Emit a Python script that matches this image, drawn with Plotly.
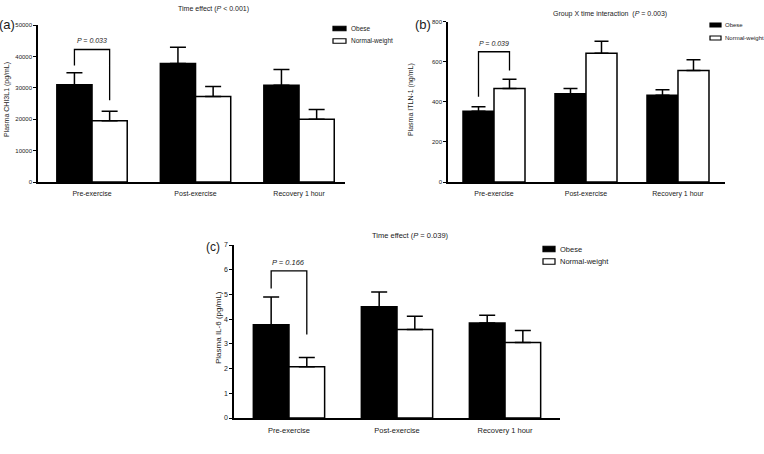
import plotly.graph_objects as go

W, H = 764, 454

categories = ["Pre-exercise", "Post-exercise", "Recovery 1 hour"]
groups = ["Obese", "Normal-weight"]

# Panel (a) CHI3L1 (pg/mL)
a_obese = [31000, 37700, 30800]
a_obese_err = [3800, 5200, 5000]
a_normal = [19500, 27200, 20000]
a_normal_err = [3000, 3200, 3100]
a_bracket = [37100, 42200, 26000]  # left leg bottom, top, right leg bottom
a_ptext = "P = 0.033"
a_ticks = [0, 10000, 20000, 30000, 40000, 50000]

# Panel (b) ITLN-1 (ng/mL)
b_obese = [353, 440, 433]
b_obese_err = [22, 27, 27]
b_normal = [467, 642, 557]
b_normal_err = [46, 61, 53]
b_bracket = [425, 650, 557]
b_ptext = "P = 0.039"
b_ticks = [0, 200, 400, 600, 800]

# Panel (c) IL-6 (pg/mL)
c_obese = [3.77, 4.50, 3.84]
c_obese_err = [1.13, 0.60, 0.32]
c_normal = [2.07, 3.58, 3.05]
c_normal_err = [0.38, 0.54, 0.49]
c_bracket = [5.24, 5.95, 3.38]
c_ptext = "P = 0.166"
c_ticks = [0, 1, 2, 3, 4, 5, 6, 7]

FONT = "Liberation Sans, Arial, sans-serif"
TXT = "#1a1a1a"

def px_x(p):
    return p / W

def px_y(p):
    return 1 - p / H

panels = [
    dict(key="", obese=a_obese, oerr=a_obese_err, normal=a_normal, nerr=a_normal_err,
         bracket=a_bracket, ptext=a_ptext, ticks=a_ticks, yr=[0, 50000],
         xdom=[38, 345], ydom=[25, 182], xr=[-0.522, 2.444], w=0.34, fs=7, tfs=6,
         cap=8, ptext_off=2900),
    dict(key="2", obese=b_obese, oerr=b_obese_err, normal=b_normal, nerr=b_normal_err,
         bracket=b_bracket, ptext=b_ptext, ticks=b_ticks, yr=[0, 800],
         xdom=[448, 725], ydom=[21.7, 182], xr=[-0.5, 2.511], w=0.337, fs=7, tfs=6,
         cap=7, ptext_off=42),
    dict(key="3", obese=c_obese, oerr=c_obese_err, normal=c_normal, nerr=c_normal_err,
         bracket=c_bracket, ptext=c_ptext, ticks=c_ticks, yr=[0, 7],
         xdom=[234, 560], ydom=[245, 418], xr=[-0.509, 2.509], w=0.33, fs=7.5, tfs=7,
         cap=8, ptext_off=0.35),
]

fig = go.Figure()
layout = {}
annotations = []
shapes = []

for p in panels:
    k = p["key"]
    xa, ya = "x" + k, "y" + k
    idx = list(range(len(categories)))
    w = p["w"]
    fig.add_trace(go.Bar(
        x=idx, y=p["obese"], name=groups[0], xaxis=xa, yaxis=ya,
        width=w, offset=-w, marker=dict(color="black", line=dict(color="black", width=1.5)),
        error_y=dict(type="data", symmetric=False, array=p["oerr"], arrayminus=[0]*3,
                     color="black", thickness=1.5, width=p["cap"]),
        showlegend=False))
    fig.add_trace(go.Bar(
        x=idx, y=p["normal"], name=groups[1], xaxis=xa, yaxis=ya,
        width=w, offset=0, marker=dict(color="white", line=dict(color="black", width=1.5)),
        error_y=dict(type="data", symmetric=False, array=p["nerr"], arrayminus=[0]*3,
                     color="black", thickness=1.5, width=p["cap"]),
        showlegend=False))
    # significance bracket
    xl, xrr = -w / 2, w / 2
    br = p["bracket"]
    fig.add_trace(go.Scatter(
        x=[xl, xl, xrr, xrr], y=[br[0], br[1], br[1], br[2]], mode="lines",
        line=dict(color="black", width=1.3), xaxis=xa, yaxis=ya, showlegend=False,
        hoverinfo="skip"))
    annotations.append(dict(
        x=0, y=br[1] + p["ptext_off"], xref=xa, yref=ya, text="<i>" + p["ptext"] + "</i>",
        showarrow=False, font=dict(size=p["fs"], color=TXT, family=FONT),
        xanchor="center", yanchor="middle"))
    layout["xaxis" + k] = dict(
        domain=[px_x(p["xdom"][0]), px_x(p["xdom"][1])], range=p["xr"],
        anchor=ya, tickvals=idx, ticktext=categories, ticks="", showgrid=False,
        zeroline=False, showline=True, linecolor="black", linewidth=1.5,
        tickfont=dict(size=p["fs"], color=TXT, family=FONT), ticklabelstandoff=4)
    layout["yaxis" + k] = dict(
        domain=[px_y(p["ydom"][1]), px_y(p["ydom"][0])], range=p["yr"],
        anchor=xa, tickvals=p["ticks"], ticktext=[str(v) for v in p["ticks"]],
        ticks="outside", ticklen=3, tickwidth=1.2,
        tickcolor="black", showgrid=False, zeroline=False, showline=True,
        linecolor="black", linewidth=1.5,
        tickfont=dict(size=p["tfs"], color=TXT, family=FONT))

# Titles, panel labels, axis titles
texts = [
    ("Time effect (<i>P</i> < 0.001)", 213, 9, 7, 0),
    ("Group X time interaction  (<i>P</i> = 0.003)", 610, 14, 7, 0),
    ("Time effect (<i>P</i> = 0.039)", 410, 235, 7.5, 0),
    ("(a)", 7, 25, 13, 0),
    ("(b)", 423, 25, 13, 0),
    ("(c)", 213, 247, 12, 0),
    ("Plasma CHI3L1 (pg/mL)", 7, 100, 7, -90),
    ("Plasma ITLN-1 (ng/mL)", 411, 100, 7, -90),
    ("Plasma IL-6 (pg/mL)", 218, 328, 8, -90),
]
for t, x, y, s, ang in texts:
    annotations.append(dict(x=px_x(x), y=px_y(y), xref="paper", yref="paper", text=t,
                            showarrow=False, textangle=ang,
                            font=dict(size=s, color=TXT, family=FONT),
                            xanchor="center", yanchor="middle"))

# Legends (swatch boxes + labels)
legends = [
    (333, 346, 28.5, 41, 350, 6.5, 4.5),
    (710, 721, 25, 38, 724, 6, 4.0),
    (543, 555, 249, 261.5, 559, 7.5, 5.5),
]
for x0, x1, y1, y2, tx, fs, hgt in legends:
    for yy, col, name in [(y1, "black", groups[0]), (y2, "white", groups[1])]:
        shapes.append(dict(type="rect", xref="paper", yref="paper",
                           x0=px_x(x0), x1=px_x(x1), y0=px_y(yy - hgt / 2), y1=px_y(yy + hgt / 2),
                           fillcolor=col, line=dict(color="black", width=1.2)))
        annotations.append(dict(x=px_x(tx), y=px_y(yy), xref="paper", yref="paper",
                                text=name, showarrow=False, xanchor="left", yanchor="middle",
                                borderpad=0,
                                font=dict(size=fs, color=TXT, family=FONT)))

fig.update_layout(
    template="none",
    width=W, height=H, margin=dict(l=0, r=0, t=0, b=0),
    paper_bgcolor="white", plot_bgcolor="white", barmode="overlay",
    annotations=annotations, shapes=shapes, showlegend=False,
    font=dict(family=FONT, color=TXT), **layout)

fig.write_html("out.html", config={"displayModeBar": False},
               post_script="document.body.style.margin='0px';document.body.style.overflow='hidden';")
